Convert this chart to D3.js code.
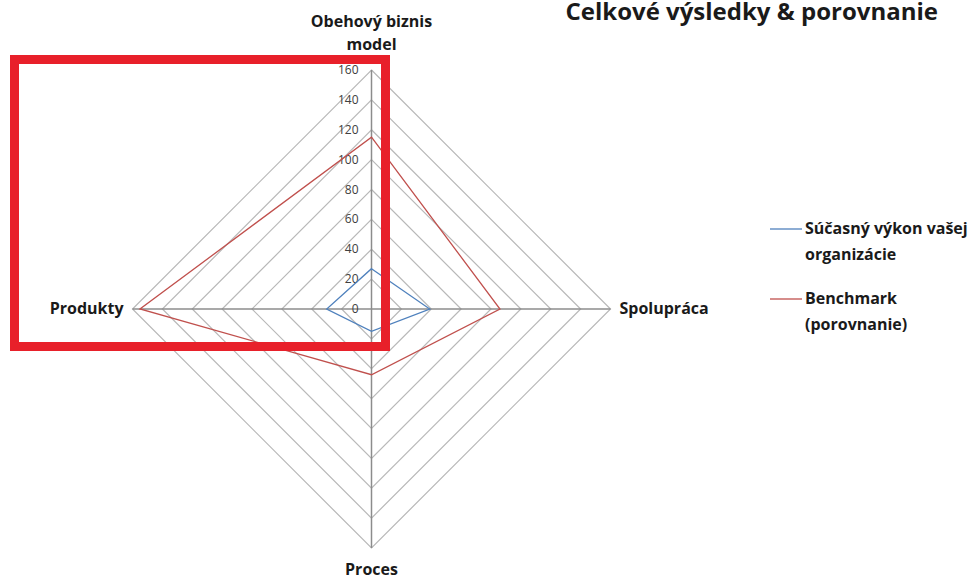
<!DOCTYPE html>
<html>
<head>
<meta charset="utf-8">
<script src="https://cdn.jsdelivr.net/npm/d3@7"></script>
<style>
  body { margin: 0; background: #fff; }
  text { font-family: "Open Sans", Lato, sans-serif; }
</style>
</head>
<body>
<div id="chart"></div>
<script>
var axes = ["Obehový biznis model", "Spolupráca", "Proces", "Produkty"];
var current = [27, 39, 15, 30];
var benchmark = [115, 86, 44, 155];
var ticks = [0, 20, 40, 60, 80, 100, 120, 140, 160];
var seriesNames = ["Súčasný výkon vašej organizácie", "Benchmark (porovnanie)"];

var width = 976,
    height = 579,
    cx = 371.5,
    cy = 309;

var svg = d3.select("#chart")
    .append("svg")
    .attr("width", width)
    .attr("height", height);

var r = d3.scaleLinear().domain([0, 160]).range([0, 239]);

/* angle for each axis, clockwise from top */
var angle = d3.scalePoint().domain(d3.range(axes.length)).range([0, 2 * Math.PI * 3 / 4]);

function pt(i, v) {
    var a = angle(i) - Math.PI / 2;
    return [cx + r(v) * Math.cos(a), cy + r(v) * Math.sin(a)];
}

var ring = d3.line().curve(d3.curveLinearClosed);

/* grid rings */
svg.append("g")
    .selectAll("path")
    .data(ticks.slice(1))
    .enter().append("path")
    .attr("d", function(t) { return ring(axes.map(function(a, i) { return pt(i, t); })); })
    .attr("fill", "none")
    .attr("stroke", "#b8b8b8")
    .attr("stroke-width", 1.2);

/* spokes */
svg.append("g")
    .selectAll("line")
    .data(axes)
    .enter().append("line")
    .attr("x1", cx).attr("y1", cy)
    .attr("x2", function(d, i) { return pt(i, 160)[0]; })
    .attr("y2", function(d, i) { return pt(i, 160)[1]; })
    .attr("stroke", "#8c8c8c")
    .attr("stroke-width", 1.5);

/* tick labels on top axis */
svg.append("g")
    .selectAll("text")
    .data(ticks)
    .enter().append("text")
    .attr("x", cx - 13)
    .attr("y", function(t) { return cy - r(t) + 4; })
    .attr("text-anchor", "end")
    .attr("font-size", 12)
    .attr("fill", "#404040")
    .text(function(t) { return t; });

/* series */
var colors = ["#4f81bd", "#c0504d"];
[current, benchmark].forEach(function(s, k) {
    svg.append("path")
        .attr("d", ring(s.map(function(v, i) { return pt(i, v); })))
        .attr("fill", "none")
        .attr("stroke", colors[k])
        .attr("stroke-width", 1.3);
});

/* axis labels */
var lab = svg.append("g").attr("font-weight", "bold").attr("font-size", 16).attr("fill", "#1a1a1a");
lab.append("text").attr("x", cx).attr("y", 27).attr("text-anchor", "middle").text("Obehový biznis");
lab.append("text").attr("x", cx).attr("y", 50).attr("text-anchor", "middle").text("model");
lab.append("text").attr("x", pt(1, 160)[0] + 9).attr("y", cy + 5).text(axes[1]);
lab.append("text").attr("x", cx).attr("y", 575).attr("text-anchor", "middle").text(axes[2]);
lab.append("text").attr("x", pt(3, 160)[0] - 9).attr("y", cy + 5).attr("text-anchor", "end").text(axes[3]);

/* title */
svg.append("text")
    .attr("x", 938).attr("y", 20)
    .attr("text-anchor", "end")
    .attr("font-weight", "bold")
    .attr("font-size", 24)
    .attr("fill", "#1a1a1a")
    .text("Celkové výsledky & porovnanie");

/* legend */
var legend = [
    { lines: ["Súčasný výkon vašej", "organizácie"], y: 234 },
    { lines: ["Benchmark", "(porovnanie)"], y: 304 }
];
legend.forEach(function(l, k) {
    var g = svg.append("g");
    g.append("line")
        .attr("x1", 770).attr("x2", 802)
        .attr("y1", l.y - 5).attr("y2", l.y - 5)
        .attr("stroke", colors[k]).attr("stroke-width", 1.3);
    l.lines.forEach(function(t, j) {
        g.append("text")
            .attr("x", 805).attr("y", l.y + j * 26)
            .attr("font-weight", "bold").attr("font-size", 16).attr("fill", "#1a1a1a")
            .text(t);
    });
});

/* highlight box */
svg.append("rect")
    .attr("x", 14.5).attr("y", 59.5)
    .attr("width", 371).attr("height", 287)
    .attr("fill", "none")
    .attr("stroke", "#e8202a")
    .attr("stroke-width", 9);
</script>
</body>
</html>
